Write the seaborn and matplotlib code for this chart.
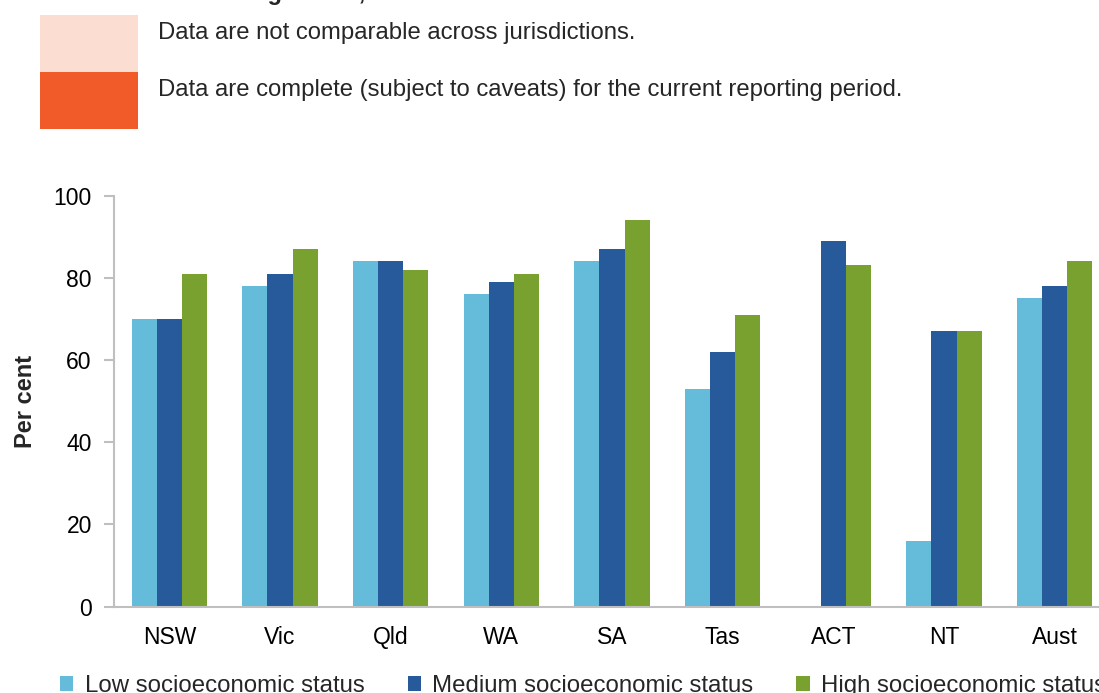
import pandas as pd
import numpy as np
import seaborn as sns
import matplotlib.pyplot as plt
from matplotlib.patches import Rectangle

jurisdictions = ['NSW', 'Vic', 'Qld', 'WA', 'SA', 'Tas', 'ACT', 'NT', 'Aust']
low_ses = [70, 78, 84, 76, 84, 53, np.nan, 16, 75]
medium_ses = [70, 81, 84, 79, 87, 62, 89, 67, 78]
high_ses = [81, 87, 82, 81, 94, 71, 83, 67, 84]
series_names = ['Low socioeconomic status', 'Medium socioeconomic status', 'High socioeconomic status']
series_colors = ['#64BBDA', '#265A9A', '#78A12F']
yticks = [0, 20, 40, 60, 80, 100]

key_labels = ['Data are not comparable across jurisdictions.',
              'Data are complete (subject to caveats) for the current reporting period.']
key_colors = ['#FCDDD2', '#F15A29']

df = pd.DataFrame({
    'jurisdiction': jurisdictions * 3,
    'value': low_ses + medium_ses + high_ses,
    'status': [s for s in series_names for _ in jurisdictions],
})

sns.set_theme(style='white')
plt.rcParams['font.family'] = ['Liberation Sans', 'DejaVu Sans']

W, H = 1099, 693
fig = plt.figure(figsize=(W / 100, H / 100), dpi=100)
ax = fig.add_axes([114 / W, (H - 606.7) / H, 996 / W, 411.2 / H])

sns.barplot(data=df, x='jurisdiction', y='value', hue='status', palette=series_colors,
            width=0.68, gap=0, saturation=1, ax=ax, errorbar=None, linewidth=0)

ax.set_xlim(-0.5, len(jurisdictions) - 0.5)
ax.set_ylim(0, 100)
ax.set_yticks(yticks)
ax.set_xlabel('')
ax.set_ylabel('Per cent', fontsize=17, fontweight='bold')
ax.yaxis.set_label_coords(-0.077, 0.5)
for side in ['top', 'right']:
    ax.spines[side].set_visible(False)
for side in ['left', 'bottom']:
    ax.spines[side].set_color('#BFBFBF')
    ax.spines[side].set_linewidth(1.5)
ax.tick_params(axis='y', length=7, width=1.5, color='#BFBFBF', pad=9, labelsize=16.5, labelcolor='black', left=True)
ax.tick_params(axis='x', length=0, pad=14, labelsize=16.5, labelcolor='black')

handles, labels = ax.get_legend_handles_labels()
ax.get_legend().remove()
fig.legend(handles, labels, loc='center left', bbox_to_anchor=(60 / W, (H - 686) / H), ncol=3,
           frameon=False, fontsize=17.3, handlelength=0.55, handleheight=0.55, handletextpad=0.47,
           columnspacing=1.8, borderpad=0, borderaxespad=0)

# data quality key at the top
for i, (lab, col) in enumerate(zip(key_labels, key_colors)):
    y_top = 15 + i * 57
    fig.add_artist(Rectangle((40 / W, (H - y_top - 57) / H), 98 / W, 57 / H,
                             transform=fig.transFigure, color=col, lw=0))
    fig.text(158 / W, (H - y_top - 18) / H, lab, fontsize=17.2, va='center', ha='left')

fig.text(158 / W, 1.0, 'Data rating status, 2023', fontsize=17, fontweight='bold', va='baseline', ha='left')

fig.savefig('out.png', dpi=100)
